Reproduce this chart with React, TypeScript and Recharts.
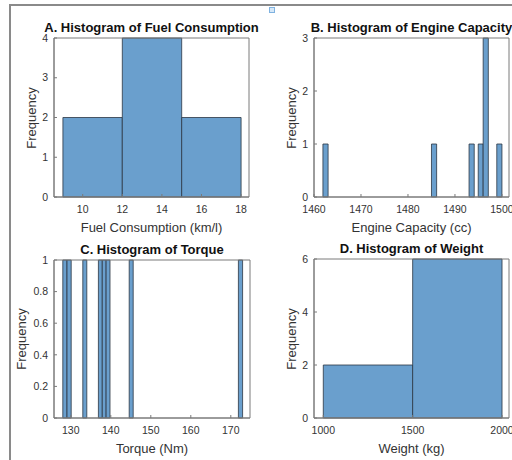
import React from 'react';
import { ComposedChart, XAxis, YAxis, ReferenceArea } from 'recharts';

// A. fuel consumption (km/l)
const fuelBinStart = [9, 12, 15];
const fuelBinEnd = [12, 15, 18];
const fuelCounts = [2, 4, 2];
const fuelXTicks = [10, 12, 14, 16, 18];
const fuelYTicks = [0, 1, 2, 3, 4];

// B. engine capacity (cc)
const engineBinStart = [1461.9, 1485.0, 1493.0, 1494.95, 1496.0, 1498.9];
const engineBinEnd = [1463.0, 1486.1, 1494.1, 1496.0, 1497.1, 1500.0];
const engineCounts = [1, 1, 1, 1, 3, 1];
const engineXTicks = [1460, 1470, 1480, 1490, 1500];
const engineYTicks = [0, 1, 2, 3];

// C. torque (Nm)
const torqueBinStart = [128.0, 129.05, 133.0, 136.9, 137.87, 138.83, 144.6, 171.9];
const torqueBinEnd = [129.05, 130.1, 134.0, 137.87, 138.83, 139.8, 145.6, 172.95];
const torqueCounts = [1, 1, 1, 1, 1, 1, 1, 1];
const torqueXTicks = [130, 140, 150, 160, 170];
const torqueYTicks = [0, 0.2, 0.4, 0.6, 0.8, 1];

// D. weight (kg)
const weightBinStart = [1000, 1500];
const weightBinEnd = [1500, 2000];
const weightCounts = [2, 6];
const weightXTicks = [1000, 1500, 2000];
const weightYTicks = [0, 2, 4, 6];

const FONT = '"Liberation Sans", Arial, Helvetica, sans-serif';
const BAR_FILL = '#6a9fcd';
const BAR_EDGE = '#2b3642';
const AXIS = '#7a7a7a';
const TEXT = '#333333';

interface Bin {
  start: number;
  end: number;
  count: number;
}

const toBins = (s: number[], e: number[], c: number[]): Bin[] =>
  s.map((start, i) => ({ start, end: e[i], count: c[i] }));

interface PanelProps {
  px: number;
  py: number;
  pw: number;
  ph: number;
  title: string;
  xLabel: string;
  xDomain: [number, number];
  yDomain: [number, number];
  xTicks: number[];
  yTicks: number[];
  bins: Bin[];
  yLabelGap: number;
}

const Panel: React.FC<PanelProps> = ({
  px, py, pw, ph, title, xLabel, xDomain, yDomain, xTicks, yTicks, bins, yLabelGap,
}) => {
  const left = 60;
  const top = 30;
  return (
    <>
      <div
        style={{
          position: 'absolute',
          left: px - 60,
          top: py - 18,
          width: pw + 120,
          textAlign: 'center',
          font: `bold 13px ${FONT}`,
          lineHeight: '16px',
          color: '#111',
          whiteSpace: 'nowrap',
        }}
      >
        {title}
      </div>
      <div
        style={{
          position: 'absolute',
          left: px - yLabelGap - 50,
          top: py + ph / 2 - 8,
          width: 100,
          height: 16,
          lineHeight: '16px',
          textAlign: 'center',
          font: `13px ${FONT}`,
          color: TEXT,
          transform: 'rotate(-90deg)',
        }}
      >
        Frequency
      </div>
      <div style={{ position: 'absolute', left: px - left, top: py - top }}>
        <ComposedChart
          width={pw + left + 10}
          height={ph + top + 42}
          data={bins}
          margin={{ top, right: 10, bottom: 0, left: 0 }}
          style={{ fontFamily: FONT }}
        >
          <XAxis
            type="number"
            dataKey="start"
            domain={xDomain}
            ticks={xTicks}
            allowDataOverflow
            height={42}
            stroke={AXIS}
            tickSize={-3}
            tickMargin={12}
            tick={{ fontSize: 10.5, fill: TEXT }}
            interval={0}
            label={{ value: xLabel, position: 'insideBottom', offset: 7, fontSize: 13, fill: TEXT }}
          />
          <YAxis
            type="number"
            domain={yDomain}
            ticks={yTicks}
            allowDataOverflow
            width={left}
            stroke={AXIS}
            tickSize={-3}
            tickMargin={9}
            tick={{ fontSize: 10.5, fill: TEXT }}
            interval={0}
          />
          {bins.map((b, i) => (
            <ReferenceArea
              key={i}
              x1={b.start}
              x2={b.end}
              y1={0}
              y2={b.count}
              fill={BAR_FILL}
              fillOpacity={1}
              stroke={BAR_EDGE}
              strokeWidth={0.8}
              ifOverflow="visible"
            />
          ))}
          <ReferenceArea
            x1={xDomain[0]}
            x2={xDomain[1]}
            y1={yDomain[0]}
            y2={yDomain[1]}
            fill="none"
            fillOpacity={0}
            stroke={AXIS}
            strokeWidth={1}
            ifOverflow="visible"
          />
        </ComposedChart>
      </div>
    </>
  );
};

export default function App() {
  return (
    <div
      style={{
        position: 'absolute',
        left: 0,
        top: 0,
        width: 512,
        height: 460,
        overflow: 'hidden',
        background: '#fff',
        fontFamily: FONT,
      }}
    >
      {/* window frame */}
      <div style={{ position: 'absolute', left: 10, top: 4, width: 502, height: 0, borderTop: '2px solid #8a8a8a' }} />
      <div style={{ position: 'absolute', left: 9, top: 4, width: 0, height: 456, borderLeft: '2px solid #8a8a8a' }} />
      <div
        style={{
          position: 'absolute',
          left: 269,
          top: 7,
          width: 4,
          height: 4,
          border: '1px solid #7fb2e0',
          background: '#d6e8f8',
        }}
      />
      <Panel
        px={54} py={38} pw={195} ph={159}
        title="A. Histogram of Fuel Consumption"
        xLabel="Fuel Consumption (km/l)"
        xDomain={[8.55, 18.4]} yDomain={[0, 4]}
        xTicks={fuelXTicks} yTicks={fuelYTicks}
        bins={toBins(fuelBinStart, fuelBinEnd, fuelCounts)}
        yLabelGap={22}
      />
      <Panel
        px={314} py={38} pw={195} ph={159}
        title="B. Histogram of Engine Capacity"
        xLabel="Engine Capacity (cc)"
        xDomain={[1460, 1501.5]} yDomain={[0, 3]}
        xTicks={engineXTicks} yTicks={engineYTicks}
        bins={toBins(engineBinStart, engineBinEnd, engineCounts)}
        yLabelGap={22}
      />
      <Panel
        px={54} py={260} pw={196} ph={158}
        title="C. Histogram of Torque"
        xLabel="Torque (Nm)"
        xDomain={[125.8, 174.8]} yDomain={[0, 1]}
        xTicks={torqueXTicks} yTicks={torqueYTicks}
        bins={toBins(torqueBinStart, torqueBinEnd, torqueCounts)}
        yLabelGap={32}
      />
      <Panel
        px={314} py={259} pw={195} ph={159}
        title="D. Histogram of Weight"
        xLabel="Weight (kg)"
        xDomain={[948, 2039]} yDomain={[0, 6]}
        xTicks={weightXTicks} yTicks={weightYTicks}
        bins={toBins(weightBinStart, weightBinEnd, weightCounts)}
        yLabelGap={22}
      />
    </div>
  );
}
